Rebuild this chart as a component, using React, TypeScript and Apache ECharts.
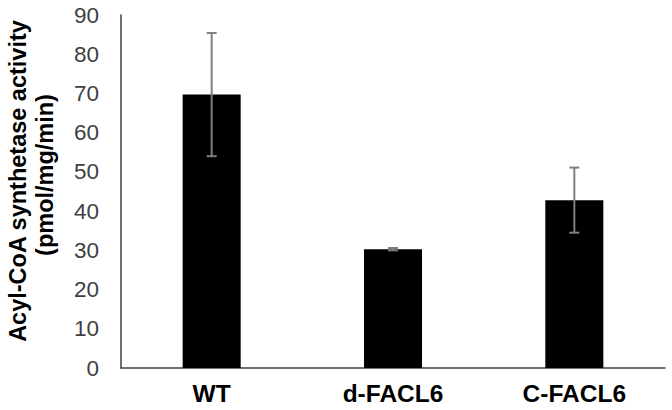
import React, { useEffect, useRef } from "react";
import * as echarts from "echarts";

const categories = ["WT", "d-FACL6", "C-FACL6"];
const means = [69.7, 30.3, 42.8];
const errors = [15.7, 0.3, 8.3];
const yTicks = { min: 0, max: 90, interval: 10 };
const yTitle = ["Acyl-CoA synthetase activity", "(pmol/mg/min)"];

const FONT = "Liberation Sans, Arial, sans-serif";

export default function App() {
  const ref = useRef<HTMLDivElement>(null);
  useEffect(() => {
    if (!ref.current) return;
    const chart = echarts.init(ref.current, null, { renderer: "svg" });
    const errData = means.map((m, i) => [i, m - errors[i], m + errors[i]]);
    chart.setOption({
      animation: false,
      grid: { left: 121, top: 15, right: 7, bottom: 42 },
      graphic: [
        {
          type: "text",
          x: 18,
          y: 181,
          rotation: Math.PI / 2,
          style: {
            text: yTitle[0],
            fill: "#000",
            font: `bold 23.5px ${FONT}`,
            align: "center",
            verticalAlign: "middle",
          },
        },
        {
          type: "text",
          x: 45,
          y: 175,
          rotation: Math.PI / 2,
          style: {
            text: yTitle[1],
            fill: "#000",
            font: `bold 23.5px ${FONT}`,
            align: "center",
            verticalAlign: "middle",
          },
        },
      ],
      xAxis: {
        type: "category",
        data: categories,
        axisTick: { show: false },
        axisLine: { lineStyle: { color: "#404040", width: 1.5 } },
        axisLabel: {
          color: "#000",
          fontFamily: FONT,
          fontWeight: "bold",
          fontSize: 24.5,
          margin: 13,
        },
      },
      yAxis: {
        type: "value",
        min: yTicks.min,
        max: yTicks.max,
        interval: yTicks.interval,
        splitLine: { show: false },
        axisTick: { show: false },
        axisLine: { show: true, lineStyle: { color: "#404040", width: 1.5 } },
        axisLabel: {
          color: "#404040",
          fontFamily: FONT,
          fontSize: 22.5,
          margin: 22,
        },
      },
      series: [
        {
          type: "bar",
          data: means,
          barWidth: "32%",
          itemStyle: { color: "#000" },
        },
        {
          type: "custom",
          data: errData,
          z: 10,
          renderItem: (params: any, api: any) => {
            const x = api.value(0);
            const lo = api.coord([x, api.value(1)]);
            const hi = api.coord([x, api.value(2)]);
            const hw = 5;
            const style = { stroke: "#7f7f7f", lineWidth: 2 };
            return {
              type: "group",
              children: [
                { type: "line", shape: { x1: hi[0], y1: hi[1], x2: lo[0], y2: lo[1] }, style },
                { type: "line", shape: { x1: hi[0] - hw, y1: hi[1], x2: hi[0] + hw, y2: hi[1] }, style },
                { type: "line", shape: { x1: lo[0] - hw, y1: lo[1], x2: lo[0] + hw, y2: lo[1] }, style },
              ],
            };
          },
        },
      ],
    });
    return () => chart.dispose();
  }, []);
  return <div ref={ref} style={{ width: 672, height: 410, position: "absolute", left: 0, top: 0 }} />;
}
